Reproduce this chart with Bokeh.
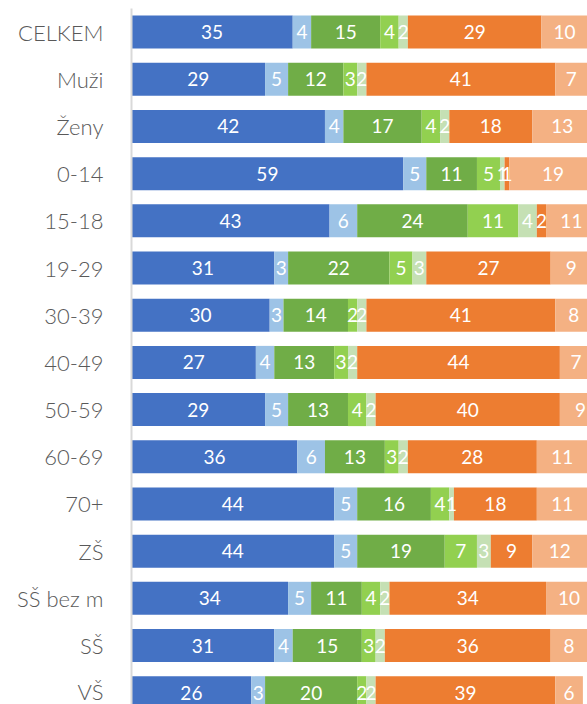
from bokeh.plotting import figure
from bokeh.models import ColumnDataSource, Range1d
from bokeh.core.properties import value
from bokeh.embed import file_html
from bokeh.resources import INLINE

categories = ["CELKEM", "Muži", "Ženy", "0-14", "15-18", "19-29", "30-39", "40-49",
              "50-59", "60-69", "70+", "ZŠ", "SŠ bez m", "SŠ", "VŠ"]
s1 = [35, 29, 42, 59, 43, 31, 30, 27, 29, 36, 44, 44, 34, 31, 26]
s2 = [4, 5, 4, 5, 6, 3, 3, 4, 5, 6, 5, 5, 5, 4, 3]
s3 = [15, 12, 17, 11, 24, 22, 14, 13, 13, 13, 16, 19, 11, 15, 20]
s4 = [4, 3, 4, 5, 11, 5, 2, 3, 4, 3, 4, 7, 4, 3, 2]
s5 = [2, 2, 2, 1, 4, 3, 2, 2, 2, 2, 1, 3, 2, 2, 2]
s6 = [29, 41, 18, 1, 2, 27, 41, 44, 40, 28, 18, 9, 34, 36, 39]
s7 = [10, 7, 13, 19, 11, 9, 8, 7, 9, 11, 11, 12, 10, 8, 6]

series = [s1, s2, s3, s4, s5, s6, s7]
names = ["s1", "s2", "s3", "s4", "s5", "s6", "s7"]
colors = ["#4472C4", "#9DC3E6", "#70AD47", "#92D050", "#C5E0B4", "#ED7D31", "#F4B183"]

ypos = list(range(len(categories)))
data = {"y": ypos}
for n, s in zip(names, series):
    data[n] = s
source = ColumnDataSource(data)

p = figure(width=587, height=704, output_backend="svg", toolbar_location=None,
           x_range=Range1d(0, 99), y_range=Range1d(14.25, -0.5),
           min_border_left=131, min_border_right=0, min_border_top=8, min_border_bottom=0)

p.hbar_stack(names, y="y", height=0.70, color=colors, line_color=None, source=source)

# labels
lx, ly, lt = [], [], []
for i in range(len(categories)):
    cum = 0
    for s in series:
        v = s[i]
        lx.append(cum + v / 2)
        ly.append(i)
        lt.append(str(v))
        cum += v
p.text(x=lx, y=ly, text=lt, text_align="center", text_baseline="middle",
       text_color="white", text_font=value("Lato"), text_font_size="19px")

p.xaxis.visible = False
p.xgrid.visible = False
p.ygrid.visible = False
p.outline_line_color = None
p.background_fill_color = "white"
p.border_fill_color = "white"

ax = p.yaxis[0]
ax.ticker = ypos
ax.major_label_overrides = {i: c for i, c in enumerate(categories)}
ax.major_tick_line_color = None
ax.minor_tick_line_color = None
ax.axis_line_color = "#D9D9D9"
ax.axis_line_width = 2
ax.major_label_text_font = "'Lato Light', Lato"
ax.major_label_text_font_size = "22px"
ax.major_label_text_color = "#595959"
ax.major_label_standoff = 22

open("out.html", "w").write(file_html(p, INLINE))
